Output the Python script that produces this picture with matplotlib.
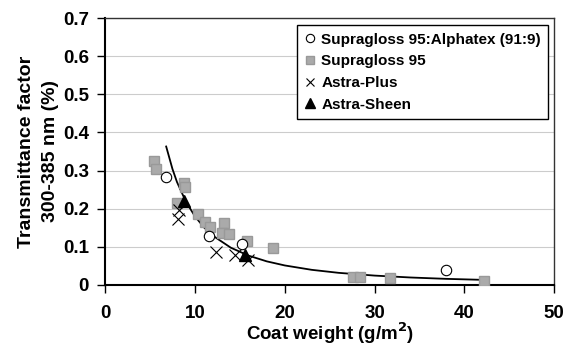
import matplotlib
matplotlib.use("Agg")
import matplotlib.pyplot as plt

plt.rcParams["font.family"] = ["Liberation Sans", "DejaVu Sans"]
plt.rcParams["font.weight"] = "bold"
plt.rcParams["mathtext.default"] = "bf"

# Supragloss 95:Alphatex (91:9)
blend_x = [6.8, 11.6, 15.2, 38.0]
blend_y = [0.284, 0.127, 0.107, 0.039]

# Supragloss 95
sg_x = [5.4, 5.7, 8.8, 8.9, 8.0, 10.3, 11.1, 11.7, 13.2, 13.0, 13.8, 15.8, 18.7, 27.6, 28.4, 31.7, 42.2]
sg_y = [0.324, 0.304, 0.268, 0.258, 0.214, 0.186, 0.164, 0.153, 0.162, 0.136, 0.133, 0.114, 0.096, 0.022, 0.022, 0.019, 0.010]

# Astra-Plus
ap_x = [8.2, 8.1, 12.3, 14.5, 15.9]
ap_y = [0.197, 0.172, 0.087, 0.079, 0.064]

# Astra-Sheen
as_x = [8.8, 15.6]
as_y = [0.220, 0.079]

# trendline
fit_x = [6.8, 7.5, 8.0, 9.0, 10.0, 11.0, 12.0, 14.0, 16.0, 18.0, 20.0, 23.0, 26.0, 30.0, 34.0, 38.0, 42.2]
fit_y = [0.363, 0.304, 0.270, 0.218, 0.180, 0.151, 0.129, 0.0975, 0.0765, 0.0617, 0.051, 0.0395, 0.0316, 0.0244, 0.0194, 0.0158, 0.0131]

fig = plt.figure(figsize=(5.65, 3.47), dpi=100)
ax = fig.add_axes([0.186, 0.179, 0.795, 0.769])

ax.grid(axis="y", color="#cccccc", linewidth=0.8)
ax.set_axisbelow(True)

ax.plot(fit_x, fit_y, color="black", linewidth=1.3, zorder=2)
ax.plot(sg_x, sg_y, "s", color="#aaaaaa", markeredgecolor="#999999", markersize=7.5,
        label="Supragloss 95", zorder=3)
ax.plot(blend_x, blend_y, "o", markerfacecolor="white", markeredgecolor="black",
        markeredgewidth=0.8, markersize=7.5, label="Supragloss 95:Alphatex (91:9)", zorder=4)
ax.plot(ap_x, ap_y, "x", color="black", markeredgewidth=0.8, markersize=8,
        label="Astra-Plus", zorder=4)
ax.plot(as_x, as_y, "^", color="black", markersize=8.5, label="Astra-Sheen", zorder=5)

ax.set_xlim(0, 50)
ax.set_ylim(0, 0.7)
ax.set_xticks([0, 10, 20, 30, 40, 50])
ax.set_yticks([0, 0.1, 0.2, 0.3, 0.4, 0.5, 0.6, 0.7])
ax.set_yticklabels(["0", "0.1", "0.2", "0.3", "0.4", "0.5", "0.6", "0.7"])
ax.tick_params(labelsize=13.5, direction="out", length=5.5, width=1)
ax.tick_params(axis="x", pad=9)
ax.tick_params(axis="y", pad=6)

for side in ["left", "bottom"]:
    ax.spines[side].set_linewidth(1.5)
for side in ["top", "right"]:
    ax.spines[side].set_linewidth(1.0)
    ax.spines[side].set_color("#333333")

ax.set_xlabel("Coat weight (g/m$^2$)", fontsize=13.5, fontweight="bold", labelpad=-1)
ax.set_ylabel("Transmittance factor\n300-385 nm (%)", fontsize=14, fontweight="bold",
              labelpad=3, linespacing=1.55)

handles, labels = ax.get_legend_handles_labels()
order = [1, 0, 2, 3]
leg = ax.legend([handles[i] for i in order], [labels[i] for i in order],
                loc="upper right", bbox_to_anchor=(0.987, 0.974), borderaxespad=0,
                fancybox=False, framealpha=1, edgecolor="black", fontsize=11,
                handlelength=0.8, handletextpad=0.3, markerscale=0.8, labelspacing=0.5,
                borderpad=0.5)
leg.get_frame().set_linewidth(1.0)

plt.savefig("out.png", dpi=100)
